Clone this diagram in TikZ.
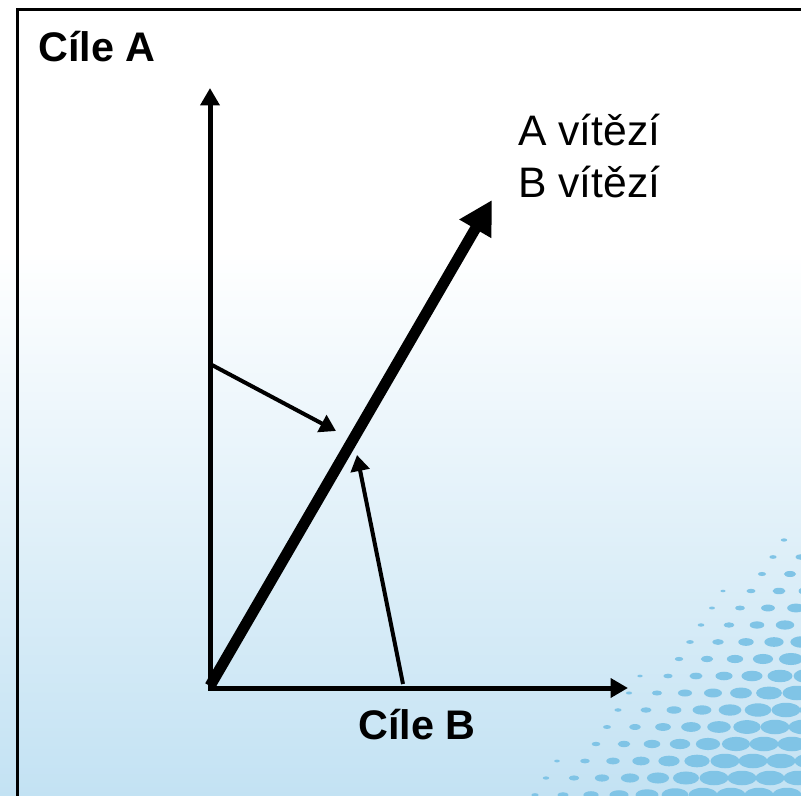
\documentclass[tikz,border=0pt]{standalone}
\usepackage{fontspec}
\setmainfont{Liberation Sans}
\usetikzlibrary{arrows.meta}
\definecolor{skyback}{RGB}{195,226,243}
\definecolor{skydot}{RGB}{128,196,230}
\begin{document}
\begin{tikzpicture}
  [x=0.75pt,y=-0.75pt,
   axis/.style={line width=3.75pt,-{Triangle[length=13pt,width=14pt]}},
   nudge/.style={line width=3pt,-{Triangle[length=12pt,width=14pt]}},
   winwin/.style={line width=8.25pt,-{Triangle[length=25pt,width=26pt]}},
   goaltext/.style={font=\fontsize{31}{36}\selectfont\bfseries,inner sep=0pt},
   plaintext/.style={font=\fontsize{32}{36}\selectfont,inner sep=0pt,anchor=west}]
  % background
  \useasboundingbox (0,0) rectangle (801,796);
  \fill[white] (0,0) rectangle (801,251);
  \shade[top color=white,bottom color=skyback] (0,250) rectangle (801,796);
  \begin{scope}
    \clip (0,0) rectangle (801,796);
    \foreach \j in {0,...,15}
      \foreach \i in {0,...,15} {
        \pgfmathsetmacro{\px}{560+28*\i-11*\j}
        \pgfmathsetmacro{\py}{540+17*\j}
        \pgfmathsetmacro{\rx}{min(14.5,4+0.07*(\px+\py-1335))}
        \ifdim\rx pt>2.5pt
          \fill[skydot] (\px,\py) ellipse ({\rx} and {0.5*\rx});
        \fi
      }
  \end{scope}
  \draw[line width=2.25pt] (17,796) -- (17,9) -- (801,9);

  \coordinate (o) at (210,686);
  \coordinate (ytop) at (210,88);
  \coordinate (xend) at (628,688);
  \coordinate (win) at (492,200);
  \coordinate (a0) at (212,365);
  \coordinate (a1) at (336,431);
  \coordinate (b0) at (403,684);
  \coordinate (b1) at (357,455);

  \node[goaltext] (ca) at (97,47) {Cíle A};
  \node[goaltext] (cb) at (417,725) {Cíle B};
  \node[plaintext] (aw) at (518,130) {A vítězí};
  \node[plaintext] (bw) at (518,182) {B vítězí};

  \draw[axis] (210,688) -- (ytop);
  \draw[axis] (208,688) -- (xend);
  \draw[winwin] (o) -- (win);
  \draw[nudge] (a0) -- (a1);
  \draw[nudge] (b0) -- (b1);
\end{tikzpicture}
\end{document}
